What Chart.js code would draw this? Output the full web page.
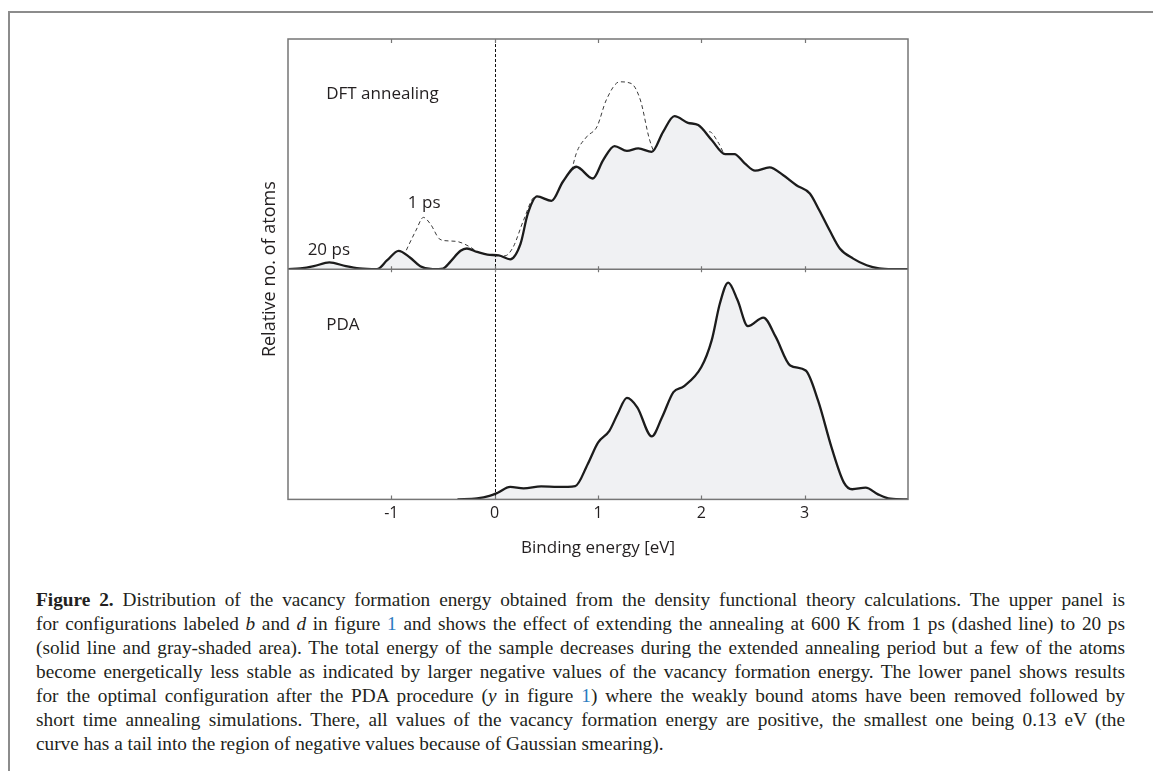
<!DOCTYPE html>
<html>
<head>
<meta charset="utf-8">
<script src="https://cdn.jsdelivr.net/npm/chart.js@4.4.0/dist/chart.umd.min.js"></script>
<style>
  body { margin: 0; background: #fff; width: 1153px; height: 771px; overflow: hidden; position: relative; }
  #frame { position: absolute; left: 8px; top: 11px; width: 1200px; height: 800px; border-top: 2px solid #8c8c8c; border-left: 2px solid #8c8c8c; }
  #wrap { position: absolute; left: 0; top: 0; width: 1153px; height: 580px; }
  #caption { position: absolute; left: 36px; top: 588px; width: 1089px; font-family: "Liberation Serif", serif; font-size: 19.3px; line-height: 24px; color: #231f20; }
  #caption div { text-align: justify; text-align-last: justify; }
  #caption div.last { text-align-last: left; }
  .ref { color: #2b7bbf; }
</style>
</head>
<body>
<div id="frame"></div>
<div id="wrap"><canvas id="grafico" width="1153" height="580"></canvas></div>
<div id="caption">
  <div><b>Figure 2.</b> Distribution of the vacancy formation energy obtained from the density functional theory calculations. The upper panel is</div>
  <div>for configurations labeled <i>b</i> and <i>d</i> in figure <span class="ref">1</span> and shows the effect of extending the annealing at 600&nbsp;K from 1&nbsp;ps (dashed line) to 20&nbsp;ps</div>
  <div>(solid line and gray-shaded area). The total energy of the sample decreases during the extended annealing period but a few of the atoms</div>
  <div>become energetically less stable as indicated by larger negative values of the vacancy formation energy. The lower panel shows results</div>
  <div>for the optimal configuration after the PDA procedure (<i>y</i> in figure <span class="ref">1</span>) where the weakly bound atoms have been removed followed by</div>
  <div>short time annealing simulations. There, all values of the vacancy formation energy are positive, the smallest one being 0.13&nbsp;eV (the</div>
  <div class="last">curve has a tail into the region of negative values because of Gaussian smearing).</div>
</div>
<script>
var tickValues = [-1, 0, 1, 2, 3]

// DFT annealing, 20 ps (solid, shaded)
var energy20 = [-2, -1.88, -1.75, -1.6, -1.44, -1.31, -1.14, -1.04, -0.93, -0.82, -0.72, -0.6, -0.5, -0.43, -0.33, -0.27, -0.17, -0.07, 0.04, 0.15, 0.25, 0.32, 0.41, 0.55, 0.66, 0.79, 0.95, 1.05, 1.16, 1.28, 1.39, 1.52, 1.63, 1.74, 1.87, 1.97, 2.1, 2.23, 2.32, 2.42, 2.52, 2.66, 2.79, 2.92, 3.05, 3.14, 3.24, 3.34, 3.47, 3.6, 3.72, 3.85, 4]
var atoms20 = [0, 0.3, 1.3, 3.0, 1.3, 0.3, 0, 3.9, 8, 5.1, 1.3, 0, 0.3, 3.2, 8, 9, 7.5, 6.3, 6, 4.3, 11, 24, 31.6, 29.7, 38, 44.5, 39.4, 47.4, 53.5, 51.4, 52.5, 51, 59.7, 66.5, 63.6, 62.6, 56.1, 50, 50, 46, 42.8, 44.2, 40.9, 36.5, 32.9, 25.7, 17, 9, 4.6, 1.7, 0.3, 0, 0]

// DFT annealing, 1 ps (dashed)
var energy1 = [-1.1, -0.98, -0.9, -0.84, -0.76, -0.69, -0.62, -0.53, -0.45, -0.35, -0.24, -0.14, 0, 0.1, 0.18, 0.28, 0.39, 0.49, 0.6, 0.7, 0.79, 0.89, 0.99, 1.08, 1.21, 1.32, 1.41, 1.5, 1.63, 1.78, 1.89, 1.99, 2.08, 2.16, 2.26, 2.4, 2.57, 2.69, 2.87, 2.98, 3.11, 3.24, 3.37, 3.5, 3.6]
var atoms1 = [0, 0.5, 4, 9.7, 17, 22.5, 19.5, 13, 12.3, 11.9, 9.7, 6.8, 5.7, 5.8, 9.7, 21.3, 31.4, 28.6, 23, 34.3, 50.3, 57.5, 61.9, 73.5, 81.4, 80.7, 73.5, 56.1, 43, 36.5, 41.6, 53.2, 59.7, 55.3, 46.7, 41.6, 32.9, 31.2, 29.3, 22.8, 11.2, 8.3, 6.1, 2.5, 0.3]

// PDA
var energyPda = [-0.36, -0.17, -0.05, 0.03, 0.15, 0.28, 0.45, 0.61, 0.78, 0.9, 1.0, 1.11, 1.19, 1.28, 1.38, 1.52, 1.62, 1.73, 1.83, 2.0, 2.1, 2.18, 2.26, 2.35, 2.45, 2.6, 2.72, 2.86, 3.01, 3.13, 3.26, 3.38, 3.46, 3.59, 3.71, 3.83, 4]
var atomsPda = [0, 0.4, 1.5, 2.9, 5.4, 4.8, 5.7, 5.4, 5.8, 15.3, 24.7, 29.8, 37.1, 44.1, 40, 27.4, 35.7, 46.6, 49.1, 57.5, 69.1, 85.2, 94.2, 86.6, 75.3, 79, 70.6, 58.2, 56, 42.9, 22.6, 7.3, 4.4, 5.1, 2.2, 0.3, 0]

function pontos(xs, ys) {
  return xs.map((x, i) => ({ x: x, y: ys[i] }))
}

// moldura, ticks internos, linha do zero e textos
var molduraPlugin = {
  id: 'moldura',
  afterDatasetsDraw(chart, args, opts) {
    var ctx = chart.ctx
    var a = chart.chartArea
    var x = chart.scales.x
    var mid = chart.scales.yTop.bottom
    ctx.save()

    var x0 = Math.round(x.getPixelForValue(0)) + 0.5
    ctx.strokeStyle = '#111'
    ctx.lineWidth = 1
    ctx.setLineDash([3, 2])
    ctx.beginPath()
    ctx.moveTo(x0, a.top)
    ctx.lineTo(x0, a.bottom)
    ctx.stroke()
    ctx.setLineDash([])

    ctx.strokeStyle = '#767676'
    ctx.lineWidth = 1.5
    ctx.strokeRect(a.left, a.top, a.right - a.left, a.bottom - a.top)
    ctx.beginPath()
    ctx.moveTo(a.left, mid)
    ctx.lineTo(a.right, mid)
    ctx.stroke()

    ctx.lineWidth = 1.2
    ctx.beginPath()
    tickValues.forEach(v => {
      var px = Math.round(x.getPixelForValue(v)) + 0.5
      ctx.moveTo(px, a.top); ctx.lineTo(px, a.top + 4)
      ctx.moveTo(px, mid - 3); ctx.lineTo(px, mid + 3)
      ctx.moveTo(px, a.bottom); ctx.lineTo(px, a.bottom - 4)
    })
    ctx.stroke()

    ctx.fillStyle = '#231f20'
    ctx.font = '17px "Open Sans"'
    ctx.textBaseline = 'middle'
    ctx.textAlign = 'left'
    opts.labels.forEach(l => {
      var y = chart.scales[l.axis]
      ctx.fillText(l.text, x.getPixelForValue(l.x), y.getPixelForValue(l.y))
    })

    ctx.translate(opts.titleX, (a.top + a.bottom) / 2)
    ctx.rotate(-Math.PI / 2)
    ctx.textAlign = 'center'
    ctx.font = '18px "Open Sans"'
    ctx.fillText(opts.title, 0, 0)
    ctx.restore()
  }
}

var escalaY = {
  type: 'linear',
  position: 'left',
  stack: 'paineis',
  stackWeight: 1,
  min: 0,
  max: 100,
  grid: { display: false, drawTicks: false },
  border: { display: false },
  ticks: { display: false }
}

new Chart(document.getElementById('grafico'), {
  type: 'line',
  data: {
    datasets: [{
      label: '20 ps',
      data: pontos(energy20, atoms20),
      yAxisID: 'yTop',
      borderColor: '#1c1c1c',
      borderWidth: 2.3,
      backgroundColor: '#f0f1f3',
      fill: 'origin'
    }, {
      label: '1 ps',
      data: pontos(energy1, atoms1),
      yAxisID: 'yTop',
      borderColor: '#3a3a3a',
      borderWidth: 1,
      borderDash: [4, 3],
      fill: false
    }, {
      label: 'PDA',
      data: pontos(energyPda, atomsPda),
      yAxisID: 'yBot',
      borderColor: '#1c1c1c',
      borderWidth: 2.3,
      backgroundColor: '#f0f1f3',
      fill: 'origin'
    }]
  },
  options: {
    responsive: false,
    animation: false,
    layout: { padding: { left: 288, right: 245, top: 39, bottom: 18 } },
    elements: {
      point: { radius: 0 },
      line: { cubicInterpolationMode: 'monotone' }
    },
    plugins: {
      legend: { display: false },
      tooltip: { enabled: false },
      moldura: {
        title: 'Relative no. of atoms',
        titleX: 270,
        labels: [
          { text: 'DFT annealing', x: -1.63, y: 76, axis: 'yTop' },
          { text: '1 ps', x: -0.84, y: 28.7, axis: 'yTop' },
          { text: '20 ps', x: -1.81, y: 8.3, axis: 'yTop' },
          { text: 'PDA', x: -1.63, y: 75.7, axis: 'yBot' }
        ]
      }
    },
    scales: {
      x: {
        type: 'linear',
        min: -2,
        max: 4,
        grid: { display: false, drawTicks: false },
        border: { display: false },
        ticks: {
          stepSize: 1,
          padding: 4,
          color: '#231f20',
          font: { family: 'Open Sans', size: 16 },
          callback: v => tickValues.includes(v) ? String(v) : ''
        },
        title: {
          display: true,
          text: 'Binding energy [eV]',
          color: '#231f20',
          font: { family: 'Open Sans', size: 17 },
          padding: { top: 11, bottom: 4 }
        }
      },
      yTop: Object.assign({}, escalaY, { weight: 2 }),
      yBot: Object.assign({}, escalaY, { weight: 1 })
    }
  },
  plugins: [molduraPlugin]
})
</script>
</body>
</html>
